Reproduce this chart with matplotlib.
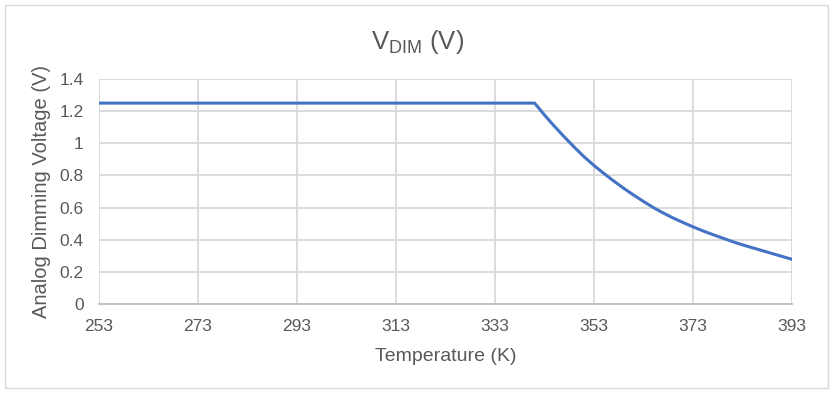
import matplotlib
matplotlib.use("Agg")
import matplotlib.pyplot as plt
from matplotlib.patches import Rectangle

# Temperature (K) and analog dimming voltage (V)
temps = [253, 341, 343, 345, 347, 349, 351, 353, 355, 357, 359, 361, 363, 365,
         367, 369, 371, 373, 375, 377, 379, 381, 383, 385, 387, 389, 391, 393]
vdim = [1.25, 1.25, 1.176, 1.106, 1.04, 0.976, 0.916, 0.862, 0.812, 0.765, 0.72,
        0.678, 0.638, 0.60, 0.566, 0.535, 0.507, 0.48, 0.455, 0.432, 0.41, 0.388,
        0.368, 0.35, 0.332, 0.314, 0.296, 0.278]
xticks = [253, 273, 293, 313, 333, 353, 373, 393]
yticks = [0, 0.2, 0.4, 0.6, 0.8, 1.0, 1.2, 1.4]
ytick_labels = ["0", "0.2", "0.4", "0.6", "0.8", "1", "1.2", "1.4"]

TXT = "#595959"
GRID = "#d9d9d9"

plt.rcParams["font.family"] = ["Liberation Sans", "DejaVu Sans"]
plt.rcParams["mathtext.fontset"] = "custom"
plt.rcParams["mathtext.rm"] = "Liberation Sans"

fig = plt.figure(figsize=(8.35, 3.97), dpi=100)
fig.patches.append(Rectangle((5 / 835, 1 - 388 / 397), 823 / 835, 383 / 397,
                             transform=fig.transFigure, fill=False,
                             edgecolor=GRID, linewidth=1))

ax = fig.add_axes([99 / 835, 1 - 304 / 397, 693 / 835, 225 / 397])
ax.plot(temps, vdim, color="#4472c4", linewidth=2.2, zorder=3)

ax.set_xlim(253, 393)
ax.set_ylim(0, 1.4)
ax.set_xticks(xticks)
ax.set_yticks(yticks)
ax.set_yticklabels(ytick_labels)
ax.grid(True, color=GRID, linewidth=1.3)
ax.set_axisbelow(True)
for side in ["top", "right", "left"]:
    ax.spines[side].set_visible(False)
ax.spines["bottom"].set_color("#bfbfbf")
ax.spines["bottom"].set_linewidth(1.3)
ax.tick_params(length=0, labelsize=12.5, labelcolor=TXT)
ax.tick_params(axis="x", pad=11)
ax.tick_params(axis="y", pad=11)

ax.set_xlabel("Temperature (K)", fontsize=14, color=TXT, labelpad=10)
ax.set_ylabel("Analog Dimming Voltage (V)", fontsize=14.5, color=TXT, labelpad=6)
fig.text(0.5, 1 - 42 / 397, r"$\mathrm{V_{DIM}}$ (V)", ha="center", va="center",
         fontsize=18.5, color=TXT)

fig.savefig("out.png", dpi=100)
